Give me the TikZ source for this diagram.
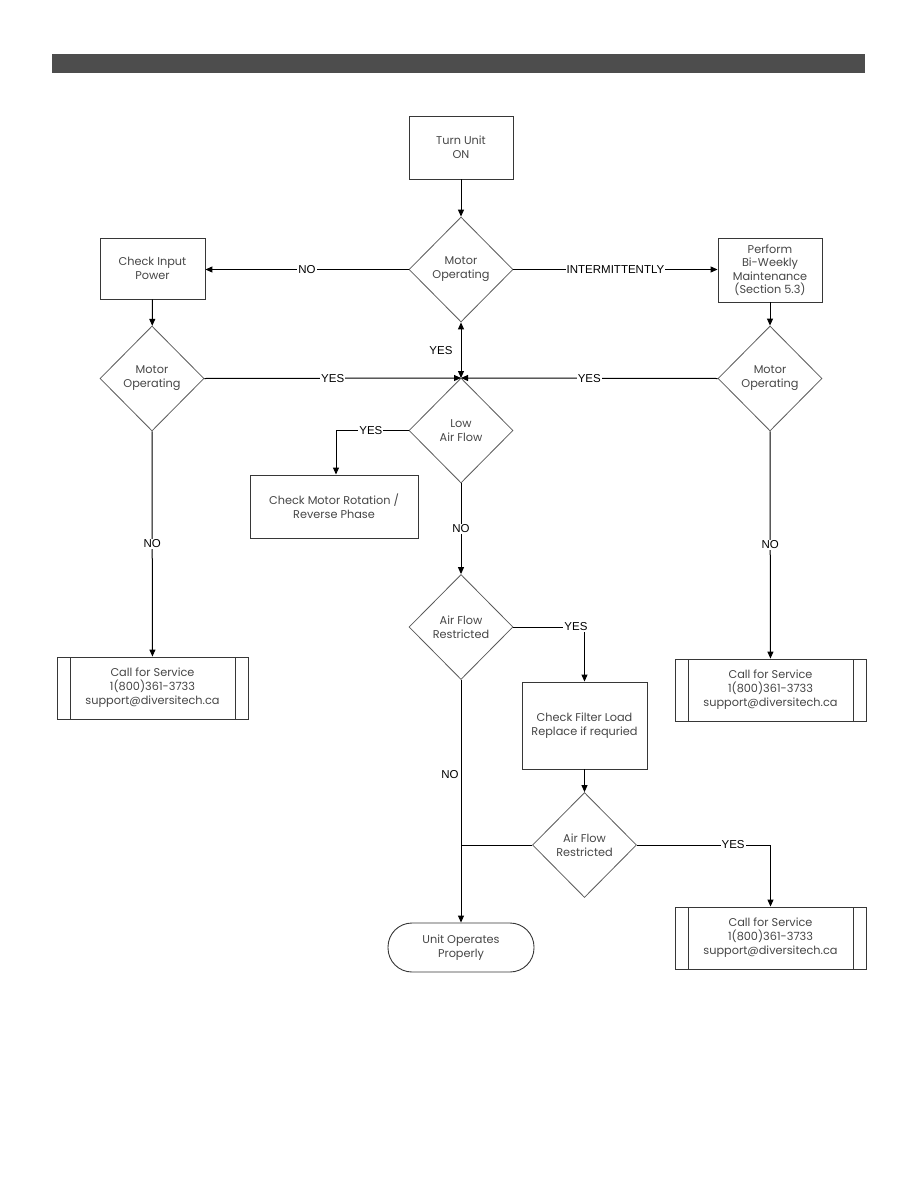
\documentclass[tikz,border=0pt]{standalone}
\usepackage{fontspec}
\setmainfont{Poppins}
\newfontfamily\flowlabelfont{Liberation Sans}
\usetikzlibrary{arrows.meta,positioning,shapes.geometric}
\definecolor{flowbar}{RGB}{77,77,77}
\definecolor{flowdark}{RGB}{55,55,55}
\definecolor{flowgray}{RGB}{90,90,90}
\definecolor{flowtext}{RGB}{70,70,70}
\tikzset{
  flow box/.style={
    draw=flowdark,
    line width=0.9pt,
    inner sep=2pt,
    align=center,
    text=flowtext,
    font=\fontsize{11.3}{14}\selectfont,
  },
  flow diamond/.style={
    diamond,
    aspect=1,
    draw=flowgray,
    line width=0.8pt,
    inner sep=0pt,
    minimum width=104pt,
    minimum height=105pt,
    align=center,
    text=flowtext,
    font=\fontsize{11.3}{14}\selectfont,
  },
  flow service/.style={
    flow box,
    minimum width=191pt,
    minimum height=62pt,
    path picture={
      \draw[draw=flowdark, line width=0.9pt]
        ([xshift=13pt]path picture bounding box.north west) --
        ([xshift=13pt]path picture bounding box.south west);
      \draw[draw=flowdark, line width=0.9pt]
        ([xshift=-13pt]path picture bounding box.north east) --
        ([xshift=-13pt]path picture bounding box.south east);
    },
  },
  flow arrow/.style={
    -{Triangle[length=7pt,width=6pt]},
    line width=1pt,
    draw=black,
  },
  flow line/.style={
    line width=1pt,
    draw=black,
  },
  flow label/.style={
    fill=white,
    inner sep=1pt,
    font=\flowlabelfont\fontsize{11.5}{12}\selectfont,
  },
}
\begin{document}
\begin{tikzpicture}[x=1pt,y=-1pt]
  \useasboundingbox (0,0) rectangle (918,1188);
  \fill[flowbar] (52,54) rectangle (865,73);

  \node[flow box, minimum width=104pt, minimum height=63pt] (turn) at (461,147.5)
    {Turn Unit\\ON};
  \node[flow diamond] (motor) at (461,269.5) {Motor\\Operating};
  \node[flow box, minimum width=105pt, minimum height=61pt] (power) at (152.5,268.5)
    {Check Input\\Power};
  \node[flow box, minimum width=104pt, minimum height=64pt, inner sep=1pt,
        font=\fontsize{11.3}{13.5}\selectfont] (maint) at (770,270)
    {Perform\\Bi-Weekly\\Maintenance\\(Section 5.3)};
  \node[flow diamond] (motorL) at (152,378.5) {Motor\\Operating};
  \node[flow diamond] (motorR) at (770,378.5) {Motor\\Operating};
  \coordinate (join) at (461,378);
  \node[flow diamond] (lowflow) at (461,430.5) {Low\\Air Flow};
  \node[flow box, minimum width=168pt, minimum height=63pt] (rotation) at (334,506.5)
    {Check Motor Rotation /\\Reverse Phase};
  \node[flow diamond] (restrict) at (461,627) {Air Flow\\Restricted};
  \node[flow box, minimum width=125pt, minimum height=87pt] (filter) at (584.5,725.5)
    {Check Filter Load\\Replace if requried};
  \node[flow diamond] (restrict2) at (584.5,845) {Air Flow\\Restricted};
  \node[flow box, minimum width=146pt, minimum height=49pt, rounded corners=24pt] (unitok) at (461,947.5)
    {Unit Operates\\Properly};
  \node[flow service] (serviceL) at (152.5,688)
    {Call for Service\\1(800)361-3733\\support@diversitech.ca};
  \node[flow service] (serviceR) at (770.5,690)
    {Call for Service\\1(800)361-3733\\support@diversitech.ca};
  \node[flow service] (serviceB) at (770.5,938)
    {Call for Service\\1(800)361-3733\\support@diversitech.ca};

  \draw[flow arrow] (turn) -- (motor);
  \draw[flow arrow] (motor.west) -- node[flow label] {NO} (power.east |- motor.west);
  \draw[flow arrow] (motor.east) -- node[flow label] {INTERMITTENTLY} (maint.west |- motor.east);
  \draw[flow arrow] (power) -- (motorL);
  \draw[flow arrow] (maint) -- (motorR);
  \draw[flow arrow] (motorL.east) -- node[flow label] {YES} (join);
  \draw[flow arrow] (motorR.west) -- node[flow label] {YES} (join);
  \draw[flow arrow, {Triangle[length=7pt,width=6pt]}-{Triangle[length=7pt,width=6pt]}]
    (motor.south) -- node[flow label, left=7pt] {YES} (join);
  \draw[flow arrow] (motorL.south) -- node[flow label] {NO} (serviceL);
  \draw[flow arrow] (motorR.south) -- node[flow label] {NO} (serviceR);
  \draw[flow arrow] (lowflow.west) -| node[flow label, pos=0.26] {YES} ([xshift=2pt]rotation.north);
  \draw[flow arrow] (lowflow) -- node[flow label] {NO} (restrict);
  \draw[flow arrow] (restrict.east) -| node[flow label, pos=0.44] {YES} (filter.north);
  \draw[flow arrow] (filter) -- (restrict2);
  \draw[flow arrow] (restrict2.east) -| node[flow label, pos=0.36] {YES} (serviceB.north);
  \draw[flow arrow] (restrict) -- node[flow label, left=1pt, pos=0.39] {NO} (unitok);
  \draw[flow line] (restrict2.west) -- (restrict2.west -| unitok.north);
\end{tikzpicture}
\end{document}
